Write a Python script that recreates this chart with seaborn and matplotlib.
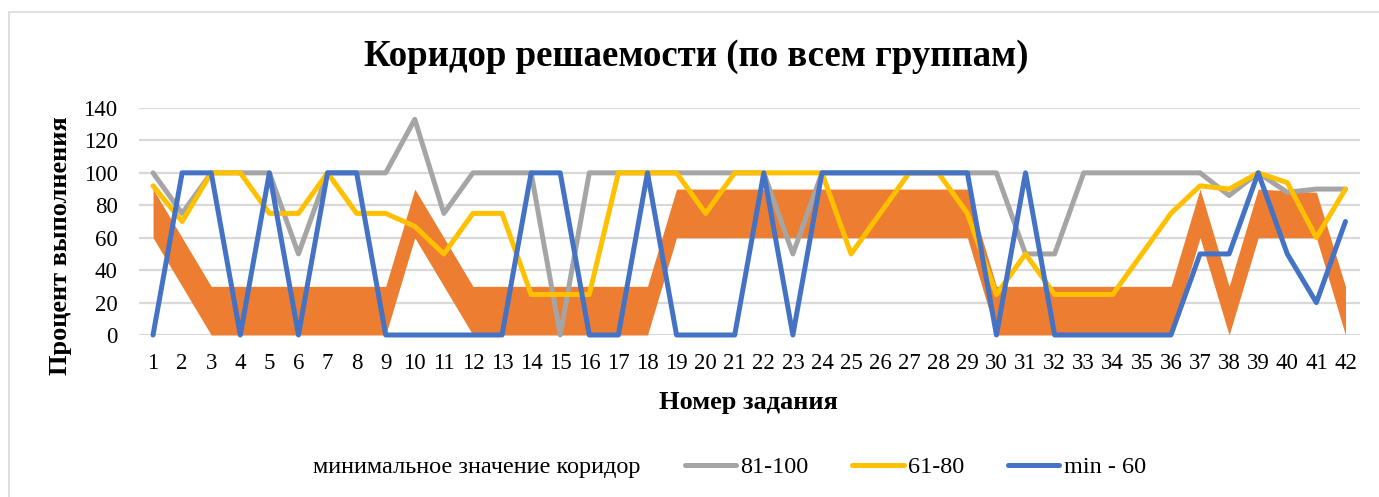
import matplotlib
matplotlib.use("Agg")
import matplotlib.pyplot as plt
import seaborn as sns
import pandas as pd
import numpy as np
from matplotlib.lines import Line2D
from matplotlib.patches import Patch, Rectangle

tasks = list(range(1, 43))
corridor_min = [60, 30, 0, 0, 0, 0, 0, 0, 0, 60, 30, 0, 0, 0, 0, 0, 0, 0,
                60, 60, 60, 60, 60, 60, 60, 60, 60, 60, 60,
                0, 0, 0, 0, 0, 0, 0, 60, 0, 60, 60, 60, 0]
corridor_max = [90, 60, 30, 30, 30, 30, 30, 30, 30, 90, 60, 30, 30, 30, 30, 30, 30, 30,
                90, 90, 90, 90, 90, 90, 90, 90, 90, 90, 90,
                30, 30, 30, 30, 30, 30, 30, 90, 30, 90, 89, 88, 30]
g81_100 = [100, 75, 100, 100, 100, 50, 100, 100, 100, 133, 75, 100, 100, 100, 0, 100,
           100, 100, 100, 100, 100, 100, 50, 100, 100, 100, 100, 100, 100, 100, 50, 50,
           100, 100, 100, 100, 100, 86, 100, 88, 90, 90]
g61_80 = [92, 70, 100, 100, 75, 75, 100, 75, 75, 67, 50, 75, 75, 25, 25, 25,
          100, 100, 100, 75, 100, 100, 100, 100, 50, 75, 100, 100, 75, 25, 50, 25,
          25, 25, 50, 75, 92, 90, 100, 94, 60, 90]
gmin_60 = [0, 100, 100, 0, 100, 0, 100, 100, 0, 0, 0, 0, 0, 100, 100, 0, 0, 100,
           0, 0, 0, 100, 0, 100, 100, 100, 100, 100, 100, 0, 100, 0, 0, 0, 0, 0,
           50, 50, 100, 50, 20, 70]

labels = ["минимальное значение коридор", "81-100", "61-80", "min - 60"]
title = "Коридор решаемости (по всем группам)"
xlabel = "Номер задания"
ylabel = "Процент выполнения"
yticks = [0, 20, 40, 60, 80, 100, 120, 140]

sns.set_theme(style="white")
plt.rcParams['font.family'] = ['Liberation Serif', 'DejaVu Serif']
plt.rcParams['text.color'] = 'black'

W, H = 1379, 497
fig = plt.figure(figsize=(W / 100, H / 100), dpi=100)
ax = fig.add_axes([138.5 / W, 1 - 335 / H, (1360 - 138.5) / W, (335 - 108) / H])

df = pd.DataFrame({"task": tasks, "lo": corridor_min, "hi": corridor_max,
                   "g1": g81_100, "g2": g61_80, "g3": gmin_60})

ax.fill_between(df["task"], df["lo"], df["hi"], color="#ED7D31", linewidth=0, zorder=2)

colors = ["#A5A5A5", "#FFC000", "#4472C4"]
for col, c in zip(["g1", "g2", "g3"], colors):
    sns.lineplot(data=df, x="task", y=col, ax=ax, color=c, linewidth=3.6,
                 zorder=3, clip_on=False, solid_joinstyle="round", solid_capstyle="round")

ax.set_xlim(0.5, 42.5)
ax.set_ylim(0, 140)
ax.set_yticks(yticks)
ax.set_xticks(tasks)
ax.set_xticklabels([str(t) for t in tasks])
ax.grid(axis="y", color="#D9D9D9", linewidth=1.6, zorder=0)
ax.grid(axis="x", visible=False)
ax.set_axisbelow(True)
for s in ax.spines.values():
    s.set_visible(False)
ax.tick_params(axis="both", length=0, labelsize=16.5, colors="black", labelcolor="black")
ax.tick_params(axis="y", pad=15)
ax.tick_params(axis="x", pad=13)
ax.set_xlabel("")
ax.set_ylabel("")

fig.text(0.505, 1 - 57 / H, title, ha="center", va="center", fontsize=26.5,
         fontweight="bold", color="black")
fig.text(0.5425, 1 - 402 / H, xlabel, ha="center", va="center", fontsize=19,
         fontweight="bold", color="black")
fig.text(60 / W, 1 - 246 / H, ylabel, ha="center", va="center", rotation=90,
         fontsize=19, fontweight="bold", color="black")

handles = [Patch(facecolor="none", edgecolor="none")] + \
          [Line2D([0], [0], color=c, linewidth=3.6, solid_capstyle="round") for c in colors]
leg = fig.legend(handles, labels, loc="center", bbox_to_anchor=(0.509, 1 - 467 / H), ncol=4,
                 frameon=False, fontsize=17.5, handlelength=2.1, handletextpad=0.2,
                 columnspacing=1.8)
for t in leg.get_texts():
    t.set_color("black")

fig.patches.append(Rectangle((9 / W, -0.1), 1.2, 1 - 12 / H + 0.1, transform=fig.transFigure,
                             fill=False, edgecolor="#D9D9D9", linewidth=1.2))

fig.savefig("out.png", dpi=100)
